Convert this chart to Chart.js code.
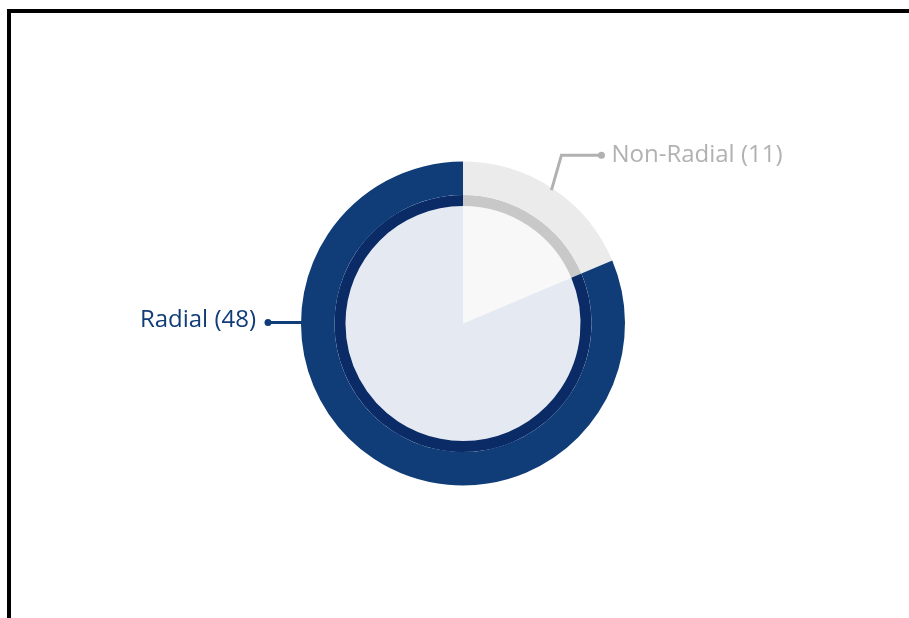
<!DOCTYPE html>
<html>
<head>
<meta charset="utf-8">
<script src="https://cdn.jsdelivr.net/npm/chart.js@4.4.0/dist/chart.umd.min.js"></script>
<style>
  html, body { margin: 0; padding: 0; background: #fff; }
  #wrap { position: relative; width: 909px; height: 618px; }
  #frame {
    position: absolute; left: 7px; top: 9px; right: 0; bottom: 0;
    border-top: 4px solid #000; border-left: 4px solid #000;
    pointer-events: none;
  }
</style>
</head>
<body>
<div id="wrap">
  <canvas id="typeChart"></canvas>
  <div id="frame"></div>
</div>
<script>
    const categories = ['Non-Radial', 'Radial'];
    const counts = [11, 48];

    const outerColors = ['#ebebeb', '#103d78'];
    const ringColors = ['#c8c8c8', '#0a2b66'];
    const innerColors = ['#f8f8f8', '#e5eaf2'];
    const labelColors = ['#b1b1b1', '#103d78'];

    // leader lines + labels, anchored on the outer ring arcs
    const calloutPlugin = {
        id: 'callouts',
        afterDatasetsDraw(chart) {
            const ctx = chart.ctx;
            const meta = chart.getDatasetMeta(0);
            ctx.save();
            ctx.font = '24px "Open Sans"';
            ctx.lineWidth = 3;
            meta.data.forEach((arc, i) => {
                const p = arc.getProps(['x', 'y', 'startAngle', 'endAngle', 'outerRadius'], true);
                const color = labelColors[i];
                const text = categories[i] + ' (' + counts[i] + ')';
                ctx.strokeStyle = color;
                ctx.fillStyle = color;
                let dotX, dotY;
                ctx.beginPath();
                if (i === 0) {
                    const mid = (p.startAngle + p.endAngle) / 2;
                    const ax = p.x + Math.cos(mid) * (p.outerRadius - 2);
                    const ay = p.y + Math.sin(mid) * (p.outerRadius - 2);
                    const ex = ax + 10, ey = ay - 35;
                    dotX = ex + 40; dotY = ey;
                    ctx.moveTo(ax, ay);
                    ctx.lineTo(ex, ey);
                    ctx.lineTo(dotX, dotY);
                } else {
                    const ax = p.x - p.outerRadius + 2;
                    dotX = ax - 35; dotY = p.y - 1;
                    ctx.moveTo(ax, dotY);
                    ctx.lineTo(dotX, dotY);
                }
                ctx.stroke();
                ctx.beginPath();
                ctx.arc(dotX, dotY, 3.5, 0, Math.PI * 2);
                ctx.fill();
                ctx.textBaseline = 'middle';
                if (i === 0) {
                    ctx.textAlign = 'left';
                    ctx.fillText(text, dotX + 10, dotY);
                } else {
                    ctx.textAlign = 'right';
                    ctx.fillText(text, dotX - 12, dotY - 2);
                }
            });
            ctx.restore();
        }
    };

    const ctx = document.getElementById('typeChart').getContext('2d');
    new Chart(ctx, {
        type: 'doughnut',
        data: {
            labels: categories,
            datasets: [{
                data: counts,
                backgroundColor: outerColors,
                borderWidth: 0,
                weight: 33.5
            }, {
                data: counts,
                backgroundColor: ringColors,
                borderWidth: 0,
                weight: 11
            }, {
                data: counts,
                backgroundColor: innerColors,
                borderWidth: 0,
                weight: 117.5
            }]
        },
        options: {
            responsive: true,
            maintainAspectRatio: false,
            animation: false,
            cutout: 0,
            radius: 162,
            layout: {
                padding: { left: 17, top: 29, right: 0, bottom: 0 }
            },
            plugins: {
                legend: { display: false },
                tooltip: { enabled: false }
            }
        },
        plugins: [calloutPlugin]
    });
</script>
</body>
</html>
